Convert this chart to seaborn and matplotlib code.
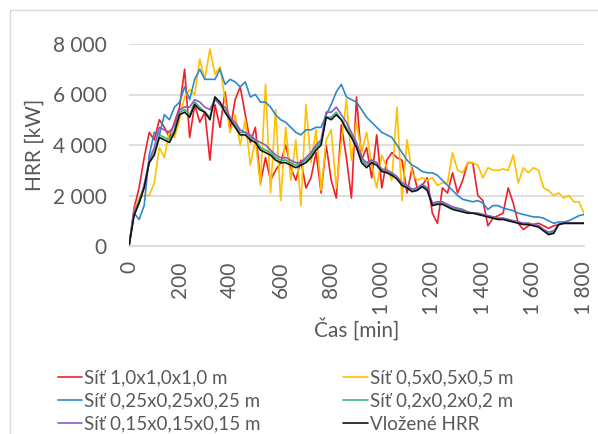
import numpy as np
import pandas as pd
import matplotlib
matplotlib.use("Agg")
import matplotlib.pyplot as plt
import seaborn as sns
from matplotlib.patches import Rectangle
from matplotlib.lines import Line2D

# ---- data (20-min steps, 0..1800 min) ----
time_min = list(range(0, 1801, 20))

red_1_0 = [0, 1500, 2300, 3500, 4500, 4200, 5000, 4700, 4300, 4900,
           5500, 7000, 4300, 5600, 4900, 5300, 3400, 5600, 4700, 6100,
           4600, 5800, 6300, 5200, 4100, 4700, 2500, 3500, 2600, 3000,
           3300, 4000, 3100, 2600, 3400, 2300, 2700, 3700, 2100, 4000,
           2600, 1900, 4800, 3500, 1900, 5900, 3400, 3900, 2700, 4400,
           2300, 3400, 3700, 3500, 3400, 2100, 3100, 2300, 2400, 2700,
           1300, 900, 2300, 2100, 2900, 2100, 2600, 3300, 3300, 2000,
           1800, 800, 1100, 1200, 1300, 2300, 1700, 900, 650, 800,
           850, 900, 800, 700, 800, 850, 900, 900, 900, 900, 900]

yellow_0_5 = [0, 1400, 1900, 2000, 2000, 2500, 3900, 3500, 4600, 4300,
              5000, 5900, 6200, 6000, 7400, 6600, 7800, 6800, 7100, 5800,
              4500, 5200, 4000, 5000, 3200, 4200, 2400, 6400, 2100, 5400,
              1800, 4700, 2600, 4200, 1600, 5600, 3300, 4600, 2200, 4200,
              4600, 2300, 4100, 5800, 3400, 4900, 3700, 4500, 3200, 2300,
              3600, 3100, 2600, 5500, 1800, 4200, 2900, 2600, 2700, 2600,
              2700, 2400, 2500, 2500, 3700, 3000, 2900, 3300, 3300, 3200,
              2700, 3100, 3000, 3000, 3050, 3000, 3600, 2500, 3100, 2900,
              3100, 3000, 2300, 2200, 2000, 2100, 1900, 2000, 1750, 1750, 1300]

blue_0_25 = [0, 1300, 1050, 1600, 3600, 4500, 4400, 5200, 5000, 5500,
             5700, 6300, 5800, 6600, 7000, 6600, 6600, 6600, 7000, 6400,
             6600, 6500, 6300, 6500, 5900, 6000, 5700, 5700, 5500, 5200,
             5000, 4900, 4700, 4500, 4400, 4600, 4600, 4700, 4700, 5200,
             5600, 6100, 6400, 5900, 5800, 5700, 5400, 5100, 4900, 4700,
             4500, 4400, 4300, 4000, 3700, 3400, 3200, 3100, 2950, 2900,
             2900, 2800, 2600, 2400, 2200, 2000, 1850, 1800, 1750, 1800,
             1700, 1450, 1600, 1600, 1500, 1450, 1400, 1300, 1250, 1200,
             1150, 1150, 1100, 1000, 900, 950, 950, 1000, 1100, 1200, 1250]

green_0_2 = [0, 1300, 1800, 2400, 3300, 3700, 4400, 4300, 4200, 4600,
             5300, 5400, 5200, 5700, 5500, 5300, 5100, 5900, 5600, 5300,
             5000, 4800, 4500, 4500, 4300, 4200, 3900, 3800, 3700, 3500,
             3400, 3400, 3300, 3200, 3300, 3400, 3600, 3900, 4100, 5100,
             5100, 5300, 5000, 4700, 4400, 4000, 3400, 3200, 3400, 3300,
             3000, 2950, 2850, 2700, 2450, 2350, 2200, 2250, 2400, 2250,
             1650, 1700, 1700, 1600, 1500, 1450, 1400, 1350, 1300, 1300,
             1250, 1200, 1150, 1100, 1100, 1050, 1000, 950, 900, 900,
             850, 800, 650, 500, 550, 850, 900, 900, 900, 900, 900]

purple_0_15 = [0, 1400, 1700, 2400, 3400, 3900, 4700, 4600, 4500, 4800,
               5400, 5500, 5500, 5800, 5700, 5500, 5400, 5800, 5600, 5500,
               5100, 4900, 4600, 4500, 4400, 4200, 4100, 4000, 3800, 3600,
               3500, 3500, 3400, 3300, 3300, 3500, 3700, 4000, 4200, 5300,
               5300, 5500, 5200, 4900, 4500, 4100, 3500, 3300, 3400, 3300,
               3050, 3000, 2900, 2750, 2500, 2400, 2250, 2300, 2450, 2300,
               1700, 1750, 1750, 1650, 1550, 1500, 1450, 1350, 1300, 1300,
               1250, 1200, 1150, 1100, 1100, 1050, 1000, 950, 900, 900,
               850, 800, 650, 550, 600, 850, 900, 900, 900, 900, 900]

black_input = [0, 1200, 1700, 2300, 3300, 3600, 4300, 4200, 4100, 4500,
               5200, 5300, 5100, 5600, 5400, 5300, 5000, 5900, 5700, 5300,
               5000, 4700, 4400, 4400, 4200, 4100, 3800, 3700, 3600, 3400,
               3300, 3300, 3200, 3100, 3200, 3300, 3500, 3800, 4000, 5100,
               5000, 5200, 5000, 4600, 4300, 3900, 3300, 3100, 3300, 3200,
               2950, 2900, 2800, 2650, 2400, 2300, 2150, 2200, 2350, 2200,
               1600, 1650, 1650, 1550, 1450, 1400, 1350, 1300, 1300, 1250,
               1200, 1150, 1100, 1050, 1050, 1000, 950, 900, 850, 850,
               800, 750, 600, 450, 500, 850, 900, 900, 900, 900, 900]

series_names = ["Síť 1,0x1,0x1,0 m", "Síť 0,5x0,5x0,5 m",
                "Síť 0,25x0,25x0,25 m", "Síť 0,2x0,2x0,2 m",
                "Síť 0,15x0,15x0,15 m", "Vložené HRR"]
series_values = [red_1_0, yellow_0_5, blue_0_25, green_0_2, purple_0_15, black_input]
colors = ["#F0202A", "#FFC000", "#2F87CC", "#3DB37A", "#8A5CC2", "#111111"]

x_ticks = list(range(0, 1801, 200))
x_tick_labels = ["0", "200", "400", "600", "800", "1 000", "1 200", "1 400", "1 600", "1 800"]
y_ticks = [0, 2000, 4000, 6000, 8000]
y_tick_labels = ["0", "2 000", "4 000", "6 000", "8 000"]

frames = []
for name, vals in zip(series_names, series_values):
    frames.append(pd.DataFrame({"t": time_min, "hrr": vals, "s": name}))
df = pd.concat(frames, ignore_index=True)

sns.set_theme(style="white")
plt.rcParams["font.family"] = ["Lato", "DejaVu Sans"]

fig = plt.figure(figsize=(5.98, 4.34), dpi=100)
ax = fig.add_axes([129 / 598, 1 - 246 / 434, (584 - 129) / 598, (246 - 44) / 434])

sns.lineplot(data=df, x="t", y="hrr", hue="s", palette=dict(zip(series_names, colors)),
             hue_order=series_names, ax=ax, linewidth=1.2, legend=False, sort=False)

ax.set_xlim(0, 1800)
ax.set_ylim(0, 8000)
ax.set_xticks(x_ticks)
ax.set_xticklabels(x_tick_labels, rotation=90, fontsize=15, color="#595959")
ax.set_yticks(y_ticks)
ax.set_yticklabels(y_tick_labels, fontsize=15, color="#595959")
ax.tick_params(axis="y", length=0, pad=16)
ax.tick_params(axis="x", length=0, pad=11)
ax.yaxis.grid(True, color="#D9D9D9", linewidth=1.2)
ax.set_axisbelow(True)
for side in ["top", "right", "left"]:
    ax.spines[side].set_visible(False)
ax.spines["bottom"].set_color("#D9D9D9")
ax.spines["bottom"].set_linewidth(1.2)
ax.set_xlabel("Čas [min]", fontsize=15, color="#595959", labelpad=2)
ax.set_ylabel("HRR [kW]", fontsize=15, color="#595959", labelpad=6)

# legend: row-wise order as in the reference (matplotlib fills columns first)
order = [0, 2, 4, 1, 3, 5]
handles = [Line2D([0], [0], color=colors[i], lw=1.2) for i in order]
labels = [series_names[i] for i in order]
fig.legend(handles, labels, loc="upper left", bbox_to_anchor=(50 / 598, 1 - 362 / 434),
           ncol=2, frameon=False, fontsize=13.5, handlelength=1.3, handletextpad=0.12,
           columnspacing=4.4, labelspacing=0.32, labelcolor="#595959", borderaxespad=0)

# chart area border
fig.patches.append(Rectangle((10 / 598, -0.1), 1.0, 1 - 10 / 434 + 0.1, transform=fig.transFigure,
                             fill=False, edgecolor="#D9D9D9", linewidth=1.0))

fig.savefig("out.png", dpi=100)
